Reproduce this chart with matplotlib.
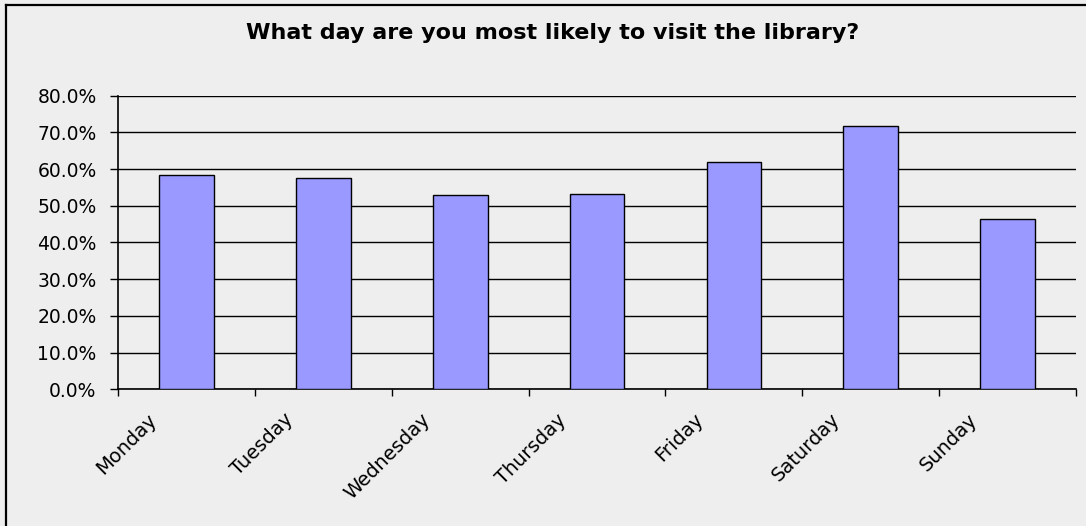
import matplotlib
matplotlib.use('Agg')
from matplotlib import pyplot as plt
from matplotlib.lines import Line2D
from matplotlib.ticker import FuncFormatter
import matplotlib.transforms as mtransforms
import numpy as np

days = ['Monday', 'Tuesday', 'Wednesday', 'Thursday', 'Friday', 'Saturday', 'Sunday']
share = [58.4, 57.6, 52.9, 53.3, 61.9, 71.8, 46.4]
y_ticks = [0, 10, 20, 30, 40, 50, 60, 70, 80]

BG = '#eeeeee'
# DejaVu is wider than Arial, closer to the loosely spaced excel text
plt.rcParams['font.family'] = ['DejaVu Sans']

fig = plt.figure(figsize=(10.86, 5.26), dpi=100, facecolor=BG)
ax = fig.add_axes([0.1087, 0.26, 0.8821, 0.558])
ax.set_facecolor(BG)

x = np.arange(len(days))
ax.bar(x, share, width=0.4, color='#9999ff', edgecolor='black', linewidth=1.0, zorder=3)

ax.set_xlim(-0.5, len(days) - 0.5)
ax.set_ylim(0, 80)
ax.set_yticks(y_ticks)
ax.yaxis.set_major_formatter(FuncFormatter(lambda v, p: f'{v:.1f}%'))
ax.yaxis.grid(True, color='black', linewidth=1.0, zorder=0)
ax.set_axisbelow(True)

# ticks on category boundaries, labels at the centres
ax.set_xticks(np.arange(len(days) + 1) - 0.5)
ax.set_xticklabels([])
ax.set_xticks(x, minor=True)
ax.set_xticklabels(days, minor=True, rotation=45, ha='right', va='top',
                   rotation_mode='anchor', fontsize=14)
ax.tick_params(axis='x', which='minor', length=0, pad=15)
ax.tick_params(axis='x', which='major', direction='out', length=5, width=1.0)
ax.tick_params(axis='y', direction='out', length=5.5, width=1.0, labelsize=13.5, pad=10)

# nudge rotated labels left, like excel does
shift = mtransforms.ScaledTranslation(-40 / 100, 0, fig.dpi_scale_trans)
for lab in ax.get_xticklabels(minor=True):
    lab.set_transform(lab.get_transform() + shift)

for s in ['top', 'right']:
    ax.spines[s].set_visible(False)
for s in ['left', 'bottom']:
    ax.spines[s].set_linewidth(1.2)
    ax.spines[s].set_color('black')

fig.text(0.509, 0.937, 'What day are you most likely to visit the library?',
         ha='center', va='center', fontsize=16, fontweight='bold')

# chart-area border (only left and top show in the crop)
fig.add_artist(Line2D([6 / 1086, 6 / 1086], [0, 1 - 5 / 526], color='black', linewidth=1.6,
                      transform=fig.transFigure))
fig.add_artist(Line2D([6 / 1086, 1], [1 - 5 / 526, 1 - 5 / 526], color='black', linewidth=1.6,
                      transform=fig.transFigure))

plt.savefig('out.png', dpi=100, facecolor=BG)
